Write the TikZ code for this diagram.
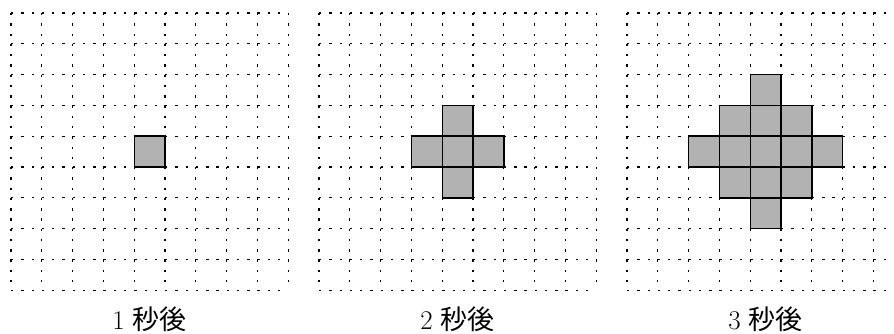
\documentclass[tikz,border=0pt]{standalone}
\usepackage{fontspec}
\newfontfamily\jp{Noto Sans CJK JP}
\begin{document}
\begin{tikzpicture}[x=1pt,y=-1pt,
  gridline/.style={line width=1.2pt, dash pattern=on 2.4pt off 7.87pt},
  cell/.style={fill=gray!60, draw=black, line width=1.4pt},
  lbl/.style={font=\fontsize{27}{32}\selectfont, inner sep=0pt}]
\clip (0,0) rectangle (894,334);
\def\c{30.8}
\foreach \X in {11,319,627} {
  \foreach \k in {0,...,9} {
    \draw[gridline] (\X+\k*\c, 13) -- (\X+\k*\c, 13+9*\c);
    \draw[gridline] (\X, 13+\k*\c) -- (\X+9*\c, 13+\k*\c);
  }
}
\foreach \X/\i/\j in {11/4/4,
  319/4/3, 319/3/4, 319/4/4, 319/5/4, 319/4/5,
  627/4/2, 627/3/3, 627/4/3, 627/5/3,
  627/2/4, 627/3/4, 627/4/4, 627/5/4, 627/6/4,
  627/3/5, 627/4/5, 627/5/5, 627/4/6} {
  \draw[cell] (\X+\i*\c, 13+\j*\c) rectangle ++(\c,\c);
}
\node[lbl] (l1) at (149.6,319) {1 {\jp 秒後}};
\node[lbl] (l2) at (457.6,319) {2 {\jp 秒後}};
\node[lbl] (l3) at (765.6,319) {3 {\jp 秒後}};
\end{tikzpicture}
\end{document}
